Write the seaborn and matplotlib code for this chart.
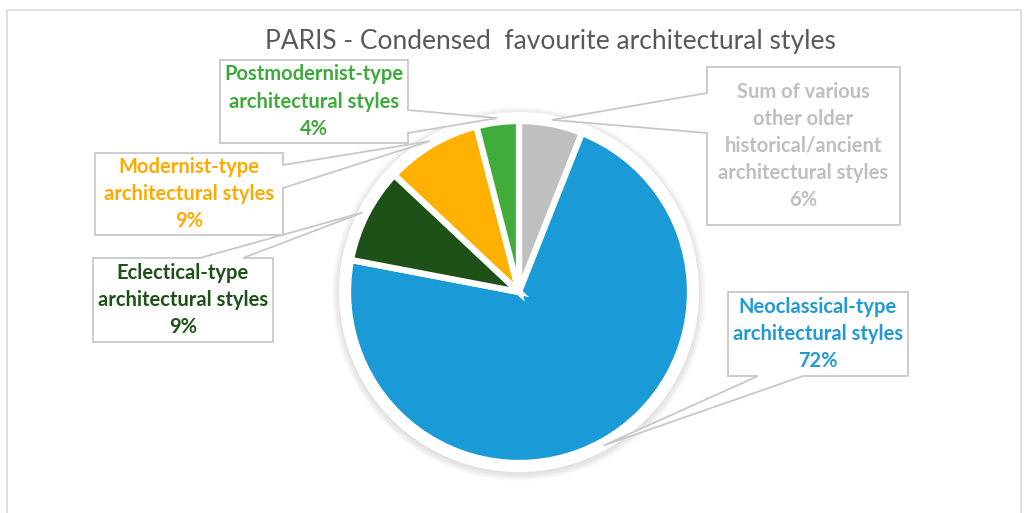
import matplotlib
matplotlib.use("Agg")
import matplotlib.pyplot as plt
import numpy as np
import seaborn as sns
from matplotlib.patches import Polygon, Circle, Rectangle

# Chart data
title = "PARIS - Condensed  favourite architectural styles"
categories = [
    "Sum of various\nother older\nhistorical/ancient\narchitectural styles",
    "Neoclassical-type\narchitectural styles",
    "Eclectical-type\narchitectural styles",
    "Modernist-type\narchitectural styles",
    "Postmodernist-type\narchitectural styles",
]
shares = [6, 72, 9, 9, 4]

# Styling
slice_colors = ["#BFBFBF", "#1A9BD7", "#1E5117", "#FFB000", "#40AD3A"]
label_colors = ["#BFBFBF", "#1F9AD6", "#1E5117", "#FFAA00", "#3DAA3A"]

sns.set_theme(style="white")
plt.rcParams["font.family"] = ["Lato", "DejaVu Sans"]

W, H = 1028, 513
fig = plt.figure(figsize=(W / 100, H / 100), dpi=100)
ax = fig.add_axes([0, 0, 1, 1])


def Y(y):
    """Convert a top-down pixel row into axis units."""
    return H - y


cx, cy, R = 519, Y(292), 171

# outer frame of the chart area
ax.add_patch(Rectangle((7, -10), 1014, Y(10) + 10, fill=False,
                       edgecolor="#D9D9D9", linewidth=1.2, zorder=0))

# soft shadow and white ring around the pie
for r in np.linspace(R + 16, R + 9, 8):
    ax.add_patch(Circle((cx, cy - 2), r, facecolor="#8C8C8C", edgecolor="none",
                        alpha=0.03, zorder=1))
ax.add_patch(Circle((cx, cy), R + 9, facecolor="white", edgecolor="none", zorder=2))

wedges, _ = ax.pie(
    shares, colors=slice_colors, startangle=90, counterclock=False,
    center=(cx, cy), radius=R, frame=True,
    wedgeprops=dict(edgecolor="white", linewidth=4.5, zorder=3),
)

ax.set_xlim(0, W)
ax.set_ylim(0, H)
ax.set_aspect("equal")
ax.axis("off")

ax.text(550, Y(42), title, ha="center", va="center", fontsize=19,
        color="#595959")

# callout boxes: (x0, x1, y0, y1) in top-down pixels, pointer side and base span
callouts = [
    dict(box=(707, 900, 67, 225), side="left", base=(93, 133)),
    dict(box=(728, 908, 292, 376), side="bottom", base=(758, 803)),
    dict(box=(93, 273, 258, 342), side="top", base=(200, 243)),
    dict(box=(95, 283, 153, 235), side="right", base=(165, 188)),
    dict(box=(220, 408, 60, 143), side="right", base=(110, 133)),
]

for w, cat, share, col, co in zip(wedges, categories, shares, label_colors, callouts):
    mid = np.deg2rad((w.theta1 + w.theta2) / 2)
    tx = cx + 1.025 * R * np.cos(mid)
    ty = cy + 1.025 * R * np.sin(mid)
    x0, x1, y0, y1 = co["box"]
    b0, b1 = co["base"]
    tl, tr, br, bl = (x0, Y(y0)), (x1, Y(y0)), (x1, Y(y1)), (x0, Y(y1))
    tip = (tx, ty)
    if co["side"] == "top":
        pts = [tl, (b0, Y(y0)), tip, (b1, Y(y0)), tr, br, bl]
    elif co["side"] == "right":
        pts = [tl, tr, (x1, Y(b0)), tip, (x1, Y(b1)), br, bl]
    elif co["side"] == "bottom":
        pts = [tl, tr, br, (b1, Y(y1)), tip, (b0, Y(y1)), bl]
    else:
        pts = [tl, tr, br, bl, (x0, Y(b1)), tip, (x0, Y(b0))]
    ax.add_patch(Polygon(pts, closed=True, facecolor="white",
                         edgecolor="#C8C8C8", linewidth=1.3, zorder=5))
    ax.text((x0 + x1) / 2, Y((y0 + y1) / 2), f"{cat}\n{share}%",
            ha="center", va="center", multialignment="center",
            fontsize=14.5, fontweight="bold", color=col, linespacing=1.45,
            zorder=6)

fig.savefig("out.png", dpi=100)
